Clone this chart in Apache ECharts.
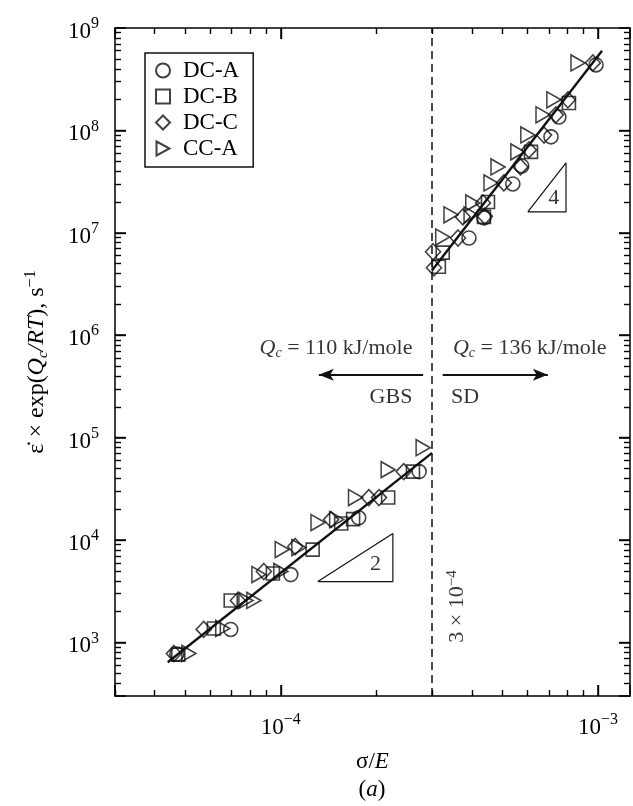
<!DOCTYPE html>
<html>
<head>
<meta charset="utf-8">
<script src="https://cdn.jsdelivr.net/npm/echarts@6/dist/echarts.min.js"></script>
<style>
html, body { margin: 0; padding: 0; background: #fff; }
#chart { width: 633px; height: 806px; }
</style>
</head>
<body>
<div id="chart"></div>
<script>
// compensated strain rate vs normalised stress, log-log
const FONT = '"Liberation Serif", "Times New Roman", serif'
const INK = '#000'

// [sigma/E, rate * exp(Qc/RT)]
const dcA = [
  [4.7e-5, 770], [6.95e-5, 1340], [1.075e-4, 4600], [1.76e-4, 16500], [2.73e-4, 46600],
  [3.92e-4, 8.9e6], [4.37e-4, 1.40e7], [5.39e-4, 3.0e7], [5.75e-4, 4.5e7], [7.11e-4, 8.65e7],
  [7.53e-4, 1.35e8], [9.86e-4, 4.36e8]
]
const dcB = [
  [4.75e-5, 760], [6.15e-5, 1370], [6.95e-5, 2570], [9.44e-5, 4710], [1.26e-4, 8070],
  [1.55e-4, 14500], [1.69e-4, 16000], [2.18e-4, 26000], [2.61e-4, 46600],
  [3.15e-4, 4.66e6], [3.24e-4, 6.4e6], [4.37e-4, 1.43e7], [4.50e-4, 2.0e7], [6.15e-4, 6.17e7],
  [8.10e-4, 1.85e8]
]
const dcC = [
  [4.6e-5, 780], [5.71e-5, 1340], [7.32e-5, 2570], [8.84e-5, 4930], [1.11e-4, 8650],
  [1.44e-4, 15850], [1.895e-4, 26000], [2.04e-4, 26000], [2.44e-4, 46600],
  [3.04e-4, 4.56e6], [3.02e-4, 6.53e6], [3.62e-4, 8.9e6], [3.75e-4, 1.43e7], [4.34e-4, 1.96e7],
  [4.4e-4, 1.45e7], [5.05e-4, 3.07e7], [5.7e-4, 4.4e7], [6.06e-4, 6.45e7], [6.76e-4, 9.0e7],
  [7.37e-4, 1.42e8], [8.04e-4, 1.99e8], [9.64e-4, 4.56e8]
]
const ccA = [
  [5.13e-5, 781], [6.56e-5, 1370], [7.76e-5, 2570], [8.22e-5, 2570], [8.53e-5, 4600],
  [1.0e-4, 4930], [1.01e-4, 8070], [1.14e-4, 8450], [1.31e-4, 14800], [1.50e-4, 15850],
  [1.72e-4, 26000], [2.18e-4, 48700], [2.81e-4, 79800],
  [3.24e-4, 9.1e6], [3.44e-4, 1.5e7], [3.98e-4, 1.5e7], [4.03e-4, 1.96e7], [4.60e-4, 3.07e7],
  [4.84e-4, 4.4e7], [5.59e-4, 6.17e7], [6.01e-4, 9.04e7], [6.71e-4, 1.42e8], [7.26e-4, 1.99e8],
  [8.65e-4, 4.56e8]
]

// fitted lines (GBS / SD regimes)
const fitGbs = [[4.4e-5, 640], [3.0e-4, 71000]]
const fitSd = [[3.0e-4, 4.3e6], [1.03e-3, 6.0e8]]
// slope triangles
const slope2 = [[1.308e-4, 3935], [2.256e-4, 3935], [2.256e-4, 11560], [1.308e-4, 3935]]
const slope4 = [[6.01e-4, 1.6e7], [7.93e-4, 1.6e7], [7.93e-4, 4.82e7], [6.01e-4, 1.6e7]]
const boundary = 3e-4

const xRange = [3e-5, 1.262e-3]
const yRange = [300, 1e9]
const xTickDecades = [-5, -4, -3]
const yTickDecades = [2, 3, 4, 5, 6, 7, 8, 9]

const chart = echarts.init(document.getElementById('chart'))

const richText = {
  t: { fontFamily: FONT, fontSize: 22, color: INK },
  i: { fontFamily: FONT, fontSize: 22, fontStyle: 'italic', color: INK },
  sub: { fontFamily: FONT, fontSize: 14, fontStyle: 'italic', color: INK, padding: [10, 0, 0, 0] },
  sup: { fontFamily: FONT, fontSize: 15, color: INK, padding: [0, 0, 10, 0] }
}

const powLabel = (v) => {
  const e = Math.round(Math.log10(v))
  if (Math.abs(Math.log10(v) - e) > 1e-6) return ''
  return '{b|10}{s|' + (e < 0 ? '\u2212' + (-e) : e) + '}'
}
const powRich = {
  b: { fontFamily: FONT, fontSize: 23, color: INK, padding: [8, 0, 0, 0] },
  s: { fontFamily: FONT, fontSize: 16, color: INK, padding: [0, 0, 8, 0] }
}

const makeAxis = (extra) => Object.assign({
  type: 'log',
  logBase: 10,
  axisLine: { show: true, lineStyle: { color: '#000', width: 1.5 } },
  axisTick: { show: true, inside: true, length: 11, lineStyle: { color: '#000', width: 1.5 } },
  splitLine: { show: false }
}, extra)

const hollow = () => ({ color: 'rgba(0,0,0,0)', borderColor: '#111', borderWidth: 1.6 })

const notes = [
  { text: '{i|Q}{sub|c}{t| = 110 kJ/mole}', at: [2.6e-4, 7.5e5], align: 'right' },
  { text: '{i|Q}{sub|c}{t| = 136 kJ/mole}', at: [3.49e-4, 7.5e5], align: 'left' },
  { text: '{t|GBS}', at: [2.6e-4, 2.46e5], align: 'right' },
  { text: '{t|SD}', at: [3.44e-4, 2.46e5], align: 'left' },
  { text: '{t|3 \u00d7 10}{sup|\u22124}', at: [3.59e-4, 2245], align: 'center', rotate: 90 },
  { text: '{t|2}', at: [1.99e-4, 5770], align: 'center' },
  { text: '{t|4}', at: [7.26e-4, 2.19e7], align: 'center' }
]

const arrows = [
  [[2.81e-4, 4.12e5], [1.318e-4, 4.12e5]],
  [[3.24e-4, 4.12e5], [6.95e-4, 4.12e5]]
]

const lineSeries = (id, data, width) => ({
  id: id,
  type: 'line',
  data: data,
  symbol: 'none',
  silent: true,
  lineStyle: { color: '#111', width: width },
  z: 3
})

const option = {
  animation: false,
  grid: { left: 115, right: 3, top: 28, bottom: 110 },
  legend: {
    data: [
      { name: 'DC-A' },
      { name: 'DC-B' },
      { name: 'DC-C' },
      { name: 'CC-A', icon: 'path://M0,0 L13,7 L0,14 Z' }
    ],
    orient: 'vertical',
    left: 145,
    top: 53,
    itemWidth: 14,
    itemHeight: 14,
    itemGap: 3,
    padding: [6, 14, 7, 10],
    borderColor: '#111',
    borderWidth: 1.5,
    backgroundColor: '#fff',
    textStyle: { fontFamily: FONT, fontSize: 23, color: INK, padding: [0, 0, 0, 8] }
  },
  xAxis: [
    makeAxis({
      position: 'bottom',
      min: xRange[0],
      max: xRange[1],
      name: '{t|\u03c3/}{i|E}',
      nameLocation: 'middle',
      nameGap: 54,
      nameTextStyle: { rich: { t: { fontFamily: FONT, fontSize: 23, color: INK }, i: { fontFamily: FONT, fontSize: 23, fontStyle: 'italic', color: INK } } },
      axisLabel: { show: true, margin: 12, formatter: powLabel, rich: powRich }
    }),
    makeAxis({
      position: 'top',
      min: xRange[0],
      max: xRange[1],
      axisLabel: { show: false }
    })
  ],
  yAxis: [
    makeAxis({
      position: 'left',
      min: yRange[0],
      max: yRange[1],
      name: '{t|\u03b5\u0307 \u00d7 exp(}{i|Q}{sub|c}{i|/RT}{t|), s}{sup|\u22121}',
      nameLocation: 'middle',
      nameRotate: 90,
      nameGap: 64,
      nameTextStyle: {
        rich: {
          t: { fontFamily: FONT, fontSize: 24, color: INK },
          i: { fontFamily: FONT, fontSize: 24, fontStyle: 'italic', color: INK },
          sub: { fontFamily: FONT, fontSize: 15, fontStyle: 'italic', color: INK, padding: [12, 0, 0, 0] },
          sup: { fontFamily: FONT, fontSize: 16, color: INK, padding: [0, 0, 12, 0] }
        }
      },
      axisLabel: { show: true, margin: 16, formatter: powLabel, rich: powRich }
    }),
    makeAxis({
      position: 'right',
      min: yRange[0],
      max: yRange[1],
      axisLabel: { show: false }
    })
  ],
  series: [
    Object.assign(lineSeries('fitGbs', fitGbs, 2.4), {
      markLine: {
        silent: true,
        symbol: 'none',
        label: { show: false },
        lineStyle: { color: '#111', width: 1.5, type: [8, 5] },
        data: [[{ coord: [boundary, yRange[0]] }, { coord: [boundary, yRange[1]] }]]
      }
    }),
    Object.assign(lineSeries('fitSd', fitSd, 2.4), {
      markLine: {
        silent: true,
        symbol: ['none', 'arrow'],
        symbolSize: [9, 15],
        label: { show: false },
        lineStyle: { color: '#111', width: 2, type: 'solid' },
        data: arrows.map((a) => [{ coord: a[0] }, { coord: a[1] }])
      }
    }),
    lineSeries('slope2', slope2, 1.2),
    lineSeries('slope4', slope4, 1.2),
    { name: 'DC-A', type: 'scatter', data: dcA, symbol: 'circle', symbolSize: 14, itemStyle: hollow(), z: 4 },
    { name: 'DC-B', type: 'scatter', data: dcB, symbol: 'rect', symbolSize: 13, itemStyle: hollow(), z: 4 },
    { name: 'DC-C', type: 'scatter', data: dcC, symbol: 'diamond', symbolSize: [15, 16], itemStyle: hollow(), z: 4 },
    { name: 'CC-A', type: 'scatter', data: ccA, symbol: 'triangle', symbolRotate: -90, symbolSize: [16, 14], itemStyle: hollow(), z: 4 },
    {
      type: 'scatter',
      silent: true,
      symbolSize: 0,
      data: notes.map((n) => ({
        value: n.at,
        label: {
          show: true,
          position: 'inside',
          formatter: n.text,
          align: n.align,
          verticalAlign: 'middle',
          rotate: n.rotate || 0,
          rich: richText
        }
      }))
    }
  ]
}

chart.setOption(option)

// ticks on all four sides (decades long, 2..9 short), drawn as mark lines in data space
const px = (v) => chart.convertToPixel({ xAxisIndex: 0 }, v)
const py = (v) => chart.convertToPixel({ yAxisIndex: 0 }, v)
const ppdX = px(1e-3) - px(1e-4)
const ppdY = py(1e3) - py(1e4)
const stepX = (len) => Math.pow(10, len / ppdX)
const stepY = (len) => Math.pow(10, len / ppdY)

const xTicks = []
const yTicks = []
xTickDecades.forEach((e) => {
  for (let k = 1; k <= 9; k++) {
    const v = k * Math.pow(10, e)
    if (v <= xRange[0] || v >= xRange[1]) continue
    const len = k === 1 ? 11 : 6
    xTicks.push([{ coord: [v, yRange[0]] }, { coord: [v, yRange[0] * stepY(len)] }])
    xTicks.push([{ coord: [v, yRange[1]] }, { coord: [v, yRange[1] / stepY(len)] }])
  }
})
yTickDecades.forEach((e) => {
  for (let k = 1; k <= 9; k++) {
    const v = k * Math.pow(10, e)
    if (v <= yRange[0] || v >= yRange[1]) continue
    const len = k === 1 ? 11 : 6
    yTicks.push([{ coord: [xRange[0], v] }, { coord: [xRange[0] * stepX(len), v] }])
    yTicks.push([{ coord: [xRange[1], v] }, { coord: [xRange[1] / stepX(len), v] }])
  }
})

const tickMarks = (data) => ({
  silent: true,
  symbol: 'none',
  label: { show: false },
  lineStyle: { color: '#000', width: 1.4, type: 'solid' },
  data: data
})

chart.setOption({
  series: [
    { id: 'slope2', markLine: tickMarks(xTicks) },
    { id: 'slope4', markLine: tickMarks(yTicks) }
  ],
  graphic: [{
    type: 'text',
    x: (px(xRange[0]) + px(xRange[1])) / 2 - 14,
    y: 778,
    style: {
      text: '{t|(}{i|a}{t|)}',
      rich: {
        t: { fontFamily: FONT, fontSize: 23, fill: INK, color: INK },
        i: { fontFamily: FONT, fontSize: 23, fontStyle: 'italic', fill: INK, color: INK }
      }
    }
  }]
})
</script>
</body>
</html>
